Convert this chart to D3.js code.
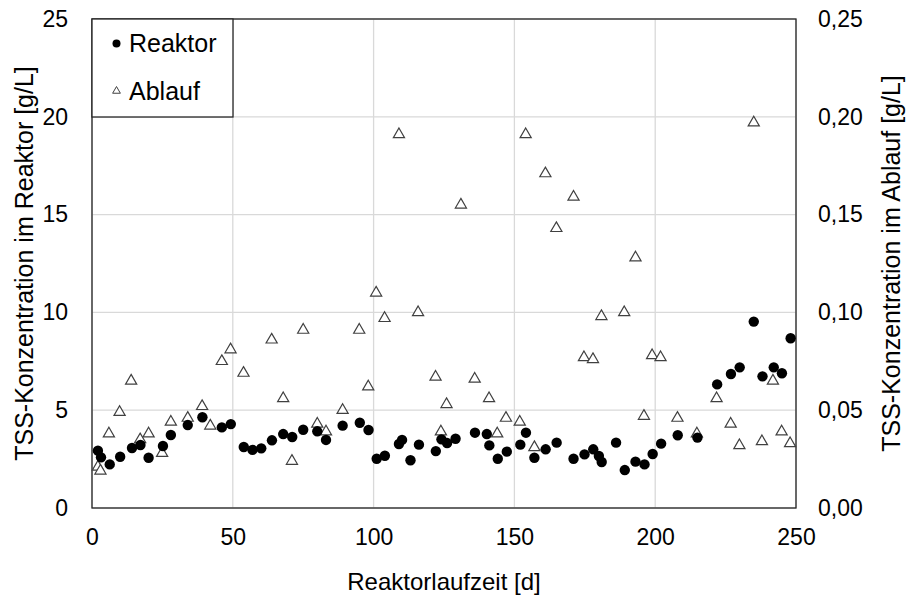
<!DOCTYPE html>
<html><head><meta charset="utf-8">
<script src="https://cdn.jsdelivr.net/npm/d3@7"></script>
<style>body{margin:0;background:#fff}svg{display:block}text{font-family:"Liberation Sans",Arial,sans-serif;fill:#000}</style>
</head><body>
<script>
const reaktorDays = [2.1,3.2,6.3,10,14.2,17.2,20.1,25.2,28,34,39.2,46.1,49.3,53.9,57,60.1,63.9,67.9,71.1,75,80,83.1,89,95.1,98.2,101.1,104,109,110.1,113.1,116.1,122.1,124.1,126.1,129.1,136,140.2,141.1,144.1,147.3,152.1,154.1,157.1,161.1,165,171,174.9,178,180,181,186.1,189.2,193,196.2,199.1,202.1,208,215,222,226.9,230,235,238.1,242.1,245,248.1];
const reaktorValues = [2.93,2.59,2.23,2.62,3.07,3.22,2.57,3.17,3.73,4.24,4.64,4.12,4.29,3.12,2.97,3.05,3.46,3.78,3.63,4.0,3.92,3.48,4.21,4.36,3.99,2.52,2.67,3.27,3.48,2.44,3.24,2.91,3.51,3.32,3.54,3.85,3.78,3.2,2.52,2.88,3.24,3.85,2.57,3.0,3.34,2.52,2.74,3.0,2.66,2.35,3.34,1.94,2.37,2.23,2.76,3.29,3.72,3.6,6.32,6.85,7.19,9.53,6.73,7.19,6.89,8.68];
const ablaufDays = [2.1,3,6,9.8,13.9,17.1,20.1,24.9,28,34,39.1,42,46.1,49.2,53.8,63.8,67.9,71,75,80,83.1,89,94.9,98.1,100.9,103.9,109,115.8,122,123.9,125.9,131,135.9,141,143.9,147,151.9,154,157.1,161,164.9,171,174.7,177.9,180.9,189,193,196,198.9,201.9,207.9,214.8,221.8,226.8,229.9,235,237.9,241.8,244.9,247.9];
const ablaufValues = [0.021,0.019,0.038,0.049,0.065,0.035,0.038,0.028,0.044,0.046,0.052,0.042,0.075,0.081,0.069,0.086,0.056,0.024,0.091,0.043,0.039,0.050,0.091,0.062,0.110,0.097,0.191,0.100,0.067,0.039,0.053,0.155,0.066,0.056,0.038,0.046,0.044,0.191,0.031,0.171,0.143,0.159,0.077,0.076,0.098,0.100,0.128,0.047,0.078,0.077,0.046,0.038,0.056,0.043,0.032,0.197,0.034,0.065,0.039,0.033];
const xTicks = [0,50,100,150,200,250];
const yLeftTicks = [0,5,10,15,20,25];
const yRightTicks = [0,0.05,0.10,0.15,0.20,0.25];
const seriesNames = ["Reaktor","Ablauf"];
const xTitle = "Reaktorlaufzeit [d]";
const yLeftTitle = "TSS-Konzentration im Reaktor [g/L]";
const yRightTitle = "TSS-Konzentration im Ablauf [g/L]";

const W = 909, H = 599;
const m = {l:92, r:113, t:19, b:91};
const svg = d3.select("body").append("svg").attr("width",W).attr("height",H);
const x = d3.scaleLinear().domain([0,250]).range([m.l, W-m.r]);
const yL = d3.scaleLinear().domain([0,25]).range([H-m.b, m.t]);
const yR = d3.scaleLinear().domain([0,0.25]).range([H-m.b, m.t]);

// gridlines
const g = svg.append("g");
g.selectAll(".vg").data(xTicks).join("line").attr("x1",d=>x(d)).attr("x2",d=>x(d)).attr("y1",m.t).attr("y2",H-m.b).attr("stroke","#d9d9d9").attr("stroke-width",1.3);
g.selectAll(".hg").data(yLeftTicks).join("line").attr("y1",d=>yL(d)).attr("y2",d=>yL(d)).attr("x1",m.l).attr("x2",W-m.r).attr("stroke","#d9d9d9").attr("stroke-width",1.3);

// axes (labels only)
const fmtR = v => d3.format(".2f")(v).replace(".",",");
const ax = svg.append("g").attr("transform",`translate(0,${H-m.b})`).call(d3.axisBottom(x).tickValues(xTicks).tickSize(0).tickPadding(21));
const ayl = svg.append("g").attr("transform",`translate(${m.l},0)`).call(d3.axisLeft(yL).tickValues(yLeftTicks).tickSize(0).tickPadding(24));
const ayr = svg.append("g").attr("transform",`translate(${W-m.r},0)`).call(d3.axisRight(yR).tickValues(yRightTicks).tickFormat(fmtR).tickSize(0).tickPadding(22));
[ax,ayl,ayr].forEach(a=>{a.select(".domain").remove(); a.selectAll("text").style("font-size","23px").style("font-family","'Liberation Sans',Arial,sans-serif").attr("fill","#000");});

// frame
svg.append("rect").attr("x",m.l).attr("y",m.t).attr("width",W-m.l-m.r).attr("height",H-m.t-m.b).attr("fill","none").attr("stroke","#262626").attr("stroke-width",1.3);

// Ablauf triangles
const tri = d3.symbol().type(d3.symbolTriangle).size(54);
const ablauf = ablaufDays.map((d,i)=>({d, v:ablaufValues[i]}));
svg.append("g").selectAll("path").data(ablauf).join("path")
  .attr("d",tri).attr("transform",p=>`translate(${x(p.d)},${yR(p.v)})`)
  .attr("fill","#fff").attr("stroke","#404040").attr("stroke-width",1.2);

// Reaktor circles
const reaktor = reaktorDays.map((d,i)=>({d, v:reaktorValues[i]}));
svg.append("g").selectAll("circle").data(reaktor).join("circle")
  .attr("cx",p=>x(p.d)).attr("cy",p=>yL(p.v)).attr("r",5.2).attr("fill","#000");

// legend
const lg = svg.append("g");
lg.append("rect").attr("x",m.l).attr("y",m.t).attr("width",141).attr("height",98).attr("fill","#fff").attr("stroke","#262626").attr("stroke-width",1.3);
lg.append("circle").attr("cx",116.5).attr("cy",43.5).attr("r",4).attr("fill","#000");
lg.append("path").attr("d",d3.symbol().type(d3.symbolTriangle).size(26)).attr("transform","translate(116.5,91)").attr("fill","#fff").attr("stroke","#404040").attr("stroke-width",1);
lg.append("text").attr("x",129).attr("y",52).style("font-size","25px").text(seriesNames[0]);
lg.append("text").attr("x",129).attr("y",100).style("font-size","25px").text(seriesNames[1]);

// titles
svg.append("text").attr("x",(m.l+W-m.r)/2).attr("y",590).attr("text-anchor","middle").style("font-size","24px").text(xTitle);
svg.append("text").attr("transform",`translate(33,${(m.t+H-m.b)/2}) rotate(-90)`).attr("text-anchor","middle").style("font-size","25px").text(yLeftTitle);
svg.append("text").attr("transform",`translate(900,${(m.t+H-m.b)/2}) rotate(-90)`).attr("text-anchor","middle").style("font-size","25px").text(yRightTitle);
</script>
</body></html>
